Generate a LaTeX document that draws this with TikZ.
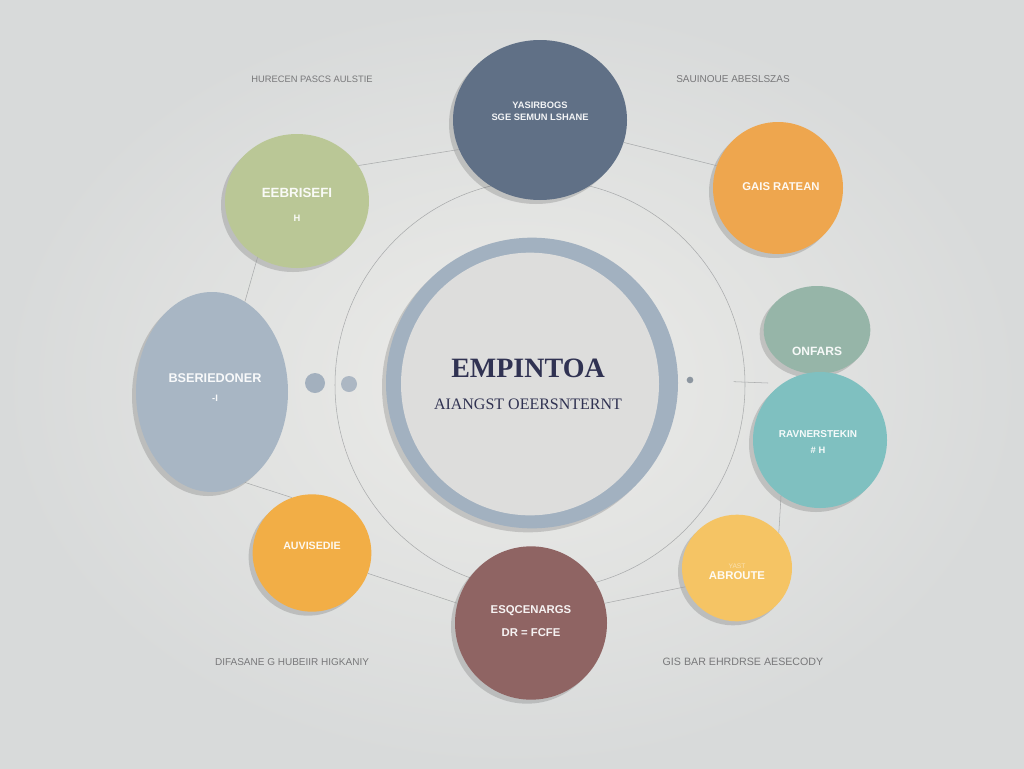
\documentclass[tikz,border=0pt]{standalone}
\usepackage{fontspec}
\setmainfont{Liberation Serif}
\setsansfont{Liberation Sans}
\usetikzlibrary{shapes.geometric,shadows}

\definecolor{bgin}{RGB}{236,236,233}
\definecolor{bgout}{RGB}{216,218,218}
\definecolor{slate}{RGB}{96,112,134}
\definecolor{apricot}{RGB}{238,166,78}
\definecolor{sage}{RGB}{186,199,150}
\definecolor{fog}{RGB}{168,182,196}
\definecolor{mint}{RGB}{150,181,168}
\definecolor{teal}{RGB}{127,192,192}
\definecolor{amber}{RGB}{242,174,70}
\definecolor{mauve}{RGB}{143,100,99}
\definecolor{butter}{RGB}{245,196,100}
\definecolor{rim}{RGB}{162,177,192}
\definecolor{core}{RGB}{221,221,220}
\definecolor{navy}{RGB}{48,50,82}
\definecolor{wire}{RGB}{150,152,154}

\begin{document}
\begin{tikzpicture}[x=0.75pt,y=0.75pt,yscale=-1,xscale=1,
  bubble/.style={ellipse,inner sep=0pt,draw=none,fill={#1},
    drop shadow={shadow xshift=-3pt,shadow yshift=-3pt,opacity=0.15,fill=black}},
  txt/.style={inner sep=0.75pt,text=white,text opacity=0.92,align=center},
  side/.style={inner sep=0.75pt,text={rgb,255:red,120;green,120;blue,122}},
  link/.style={draw=wire,line width=0.4pt,draw opacity=0.75}]

% background
\shade [inner color=bgin,outer color=bgout] (0,0) rectangle (1024,768);
\useasboundingbox (0,0) rectangle (1024,768);

% big thin orbit
\draw [link] (540,385) circle (205);

%Shape: Center ring
\node (ring) at (532,383) [bubble=rim,minimum width=219pt,minimum height=218pt] {};
\node (core) at (530,384) [ellipse,inner sep=0pt,fill=core,minimum width=193.5pt,minimum height=197pt] {};

%Shapes: Outer bubbles
\node (slate) at (540,120) [bubble=slate,minimum width=130.5pt,minimum height=120pt] {};
\node (apricot) at (778,188) [bubble=apricot,minimum width=97.5pt,minimum height=99pt] {};
\node (sage) at (297,201) [bubble=sage,minimum width=108pt,minimum height=100.5pt] {};
\node (fog) at (212,392) [bubble=fog,minimum width=114pt,minimum height=150pt] {};
\node (mint) at (817,330) [bubble=mint,minimum width=80pt,minimum height=66pt] {};
\node (teal) at (820,440) [bubble=teal,minimum width=100.5pt,minimum height=102pt] {};
\node (amber) at (312,553) [bubble=amber,minimum width=89pt,minimum height=88pt] {};
\node (mauve) at (531,623) [bubble=mauve,minimum width=114pt,minimum height=115pt] {};
\node (butter) at (737,568) [bubble=butter,minimum width=82.5pt,minimum height=80pt] {};

%Shapes: Dots
\node (dotA) at (315,383) [circle,inner sep=0pt,fill={rgb,255:red,163;green,176;blue,190},minimum size=15pt] {};
\node (dotB) at (349,384) [circle,inner sep=0pt,fill={rgb,255:red,172;green,183;blue,195},minimum size=12pt] {};
\node (dotR) at (690,380) [circle,inner sep=0pt,fill={rgb,255:red,140;green,150;blue,160},minimum size=5pt] {};
\coordinate (tick) at (768,383);

%Straight Lines
\draw [link] (sage.30) -- (slate.200);
\draw [link] (slate.-15) -- (apricot.160);
\draw [link] (sage.235) -- (fog.70);
\draw [link] (fog.290) -- (amber.110);
\draw [link] (amber.-20) -- (mauve.165);
\draw [link] (mauve.15) -- (butter.200);
\draw [link] (butter.40) -- (teal.235);
\draw [link, shorten <=30pt] (dotR) -- (tick);

% Text Node
\node (title) at (528,368) [inner sep=0.75pt,text=navy,font=\bfseries\fontsize{21}{24}\selectfont] {EMPINTOA};
% Text Node
\node (subtitle) at (528,404) [inner sep=0.75pt,text=navy,font=\fontsize{12}{14}\selectfont] {AIANGST OEERSNTERNT};
% Text Node
\node (slate-t) at (540,111) [txt,font=\sffamily\bfseries\fontsize{7}{9}\selectfont] {YASIRBOGS\\SGE SEMUN LSHANE};
% Text Node
\node (apricot-t) at (781,187) [txt,font=\sffamily\bfseries\fontsize{8.5}{10}\selectfont] {GAIS RATEAN};
% Text Node
\node (sage-t) at (297,193) [txt,font=\sffamily\bfseries\fontsize{10}{12}\selectfont] {EEBRISEFI};
\node (sage-s) at (297,218) [txt,font=\sffamily\bfseries\fontsize{7}{8}\selectfont] {H};
% Text Node
\node (fog-t) at (215,378) [txt,font=\sffamily\bfseries\fontsize{9.5}{11}\selectfont] {BSERIEDONER};
\node (fog-s) at (215,398) [txt,font=\sffamily\bfseries\fontsize{7}{8}\selectfont] {-I};
% Text Node
\node (mint-t) at (817,351) [txt,font=\sffamily\bfseries\fontsize{9}{11}\selectfont] {ONFARS};
% Text Node
\node (teal-t) at (818,434) [txt,font=\sffamily\bfseries\fontsize{7.5}{9}\selectfont] {RAVNERSTEKIN};
\node (teal-s) at (818,450) [txt,font=\sffamily\bfseries\fontsize{7}{8}\selectfont] {\# H};
% Text Node
\node (amber-t) at (312,546) [txt,font=\sffamily\bfseries\fontsize{8}{10}\selectfont] {AUVISEDIE};
% Text Node
\node (mauve-t) at (531,621) [txt,font=\sffamily\bfseries\fontsize{8.5}{17}\selectfont] {ESQCENARGS\\DR = FCFE};
% Text Node
\node (butter-s) at (737,566) [txt,text opacity=0.5,font=\sffamily\fontsize{5}{6}\selectfont] {YAST};
\node (butter-t) at (737,576) [txt,font=\sffamily\bfseries\fontsize{8.5}{10}\selectfont] {ABROUTE};

% Text Node
\node (nw) at (312,79) [side,font=\sffamily\fontsize{7}{8}\selectfont] {HURECEN PASCS AULSTIE};
% Text Node
\node (ne) at (733,79) [side,font=\sffamily\fontsize{7.5}{9}\selectfont] {SAUINOUE ABESLSZAS};
% Text Node
\node (sw) at (292,662) [side,font=\sffamily\fontsize{7.5}{9}\selectfont] {DIFASANE G HUBEIIR HIGKANIY};
% Text Node
\node (se) at (743,662) [side,font=\sffamily\fontsize{8}{9}\selectfont] {GIS BAR EHRDRSE AESECODY};

\end{tikzpicture}
\end{document}
